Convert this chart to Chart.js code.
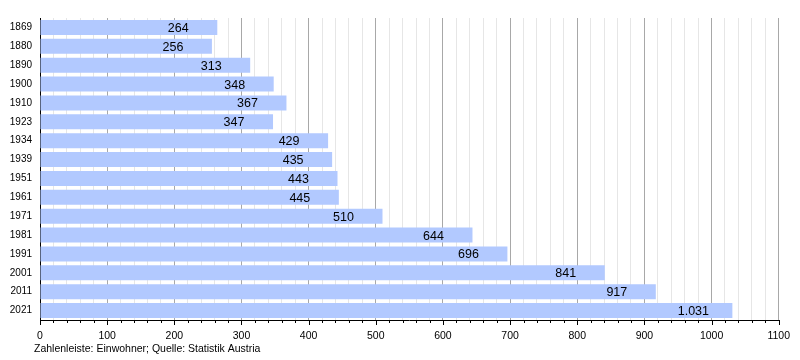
<!DOCTYPE html>
<html>
<head>
<meta charset="utf-8">
<script src="https://cdn.jsdelivr.net/npm/chart.js@4/dist/chart.umd.min.js"></script>
<style>
  html, body { margin: 0; padding: 0; background: #fff; }
  #wrap { width: 800px; height: 360px; position: relative; }
</style>
</head>
<body>
<div id="wrap"><canvas id="popChart"></canvas></div>
<script>
// population per census year
const years = ['1869', '1880', '1890', '1900', '1910', '1923', '1934', '1939', '1951', '1961', '1971', '1981', '1991', '2001', '2011', '2021'];
const inhabitants = [264, 256, 313, 348, 367, 347, 429, 435, 443, 445, 510, 644, 696, 841, 917, 1031];
const xTickLabels = ['0', '100', '200', '300', '400', '500', '600', '700', '800', '900', '1000', '1100'];
const footerText = 'Zahlenleiste: Einwohner; Quelle: Statistik Austria';

const FONT = '"Liberation Sans", Arial, sans-serif';

function formatDe(v) {
    // German thousands separator
    return String(v).replace(/\B(?=(\d{3})+(?!\d))/g, '.');
}

// value labels inside bars, tick marks under the axis, footer line
const extrasPlugin = {
    id: 'extras',
    afterDatasetsDraw(chart) {
        const ctx = chart.ctx;
        const meta = chart.getDatasetMeta(0);
        ctx.save();
        ctx.font = '12.5px ' + FONT;
        ctx.fillStyle = '#000';
        ctx.textAlign = 'center';
        ctx.textBaseline = 'middle';
        meta.data.forEach((bar, i) => {
            ctx.fillText(formatDe(inhabitants[i]), bar.x - 39, bar.y + 1);
        });
        ctx.restore();
    },
    afterDraw(chart) {
        const ctx = chart.ctx;
        const xScale = chart.scales.x;
        const bottom = chart.chartArea.bottom;
        ctx.save();
        ctx.strokeStyle = '#000';
        ctx.lineWidth = 1;
        for (let v = 0; v <= 1100; v += 20) {
            const x = Math.round(xScale.getPixelForValue(v)) + 0.5;
            const len = v % 100 === 0 ? 5 : 3;
            ctx.beginPath();
            ctx.moveTo(x, bottom);
            ctx.lineTo(x, bottom + len);
            ctx.stroke();
        }
        ctx.font = '10.5px ' + FONT;
        ctx.fillStyle = '#000';
        ctx.textAlign = 'left';
        ctx.textBaseline = 'middle';
        ctx.fillText(footerText, 34, 349);
        ctx.restore();
    }
};

const myBarChart = new Chart(document.getElementById('popChart'), {
    type: 'bar',
    data: {
        labels: years,
        datasets: [{
            data: inhabitants,
            backgroundColor: '#b2c9ff',
            borderWidth: 0,
            barPercentage: 0.8,
            categoryPercentage: 1.0
        }]
    },
    options: {
        indexAxis: 'y',
        responsive: true,
        maintainAspectRatio: false,
        animation: false,
        layout: { padding: { top: 18, right: 20, bottom: 0, left: 0 } },
        scales: {
            x: {
                min: 0,
                max: 1100,
                ticks: {
                    stepSize: 20,
                    autoSkip: false,
                    maxRotation: 0,
                    padding: 10,
                    color: '#000',
                    font: { family: FONT, size: 10.5 },
                    callback: (v) => v % 100 === 0 ? xTickLabels[v / 100] : ''
                },
                grid: {
                    drawTicks: false,
                    color: (c) => (c.tick && c.tick.value % 100 === 0) ? '#a8a8a8' : '#e6e6e6'
                },
                border: { display: true, color: '#000', width: 1 },
                afterFit: (scale) => { scale.height = 40; }
            },
            y: {
                ticks: {
                    padding: 8,
                    color: '#000',
                    font: { family: FONT, size: 10 }
                },
                grid: { display: false, drawTicks: false },
                border: { display: true, color: '#000', width: 1 },
                afterFit: (scale) => { scale.width = 40; }
            }
        },
        plugins: {
            legend: { display: false },
            tooltip: { enabled: false }
        }
    },
    plugins: [extrasPlugin]
});
</script>
</body>
</html>
